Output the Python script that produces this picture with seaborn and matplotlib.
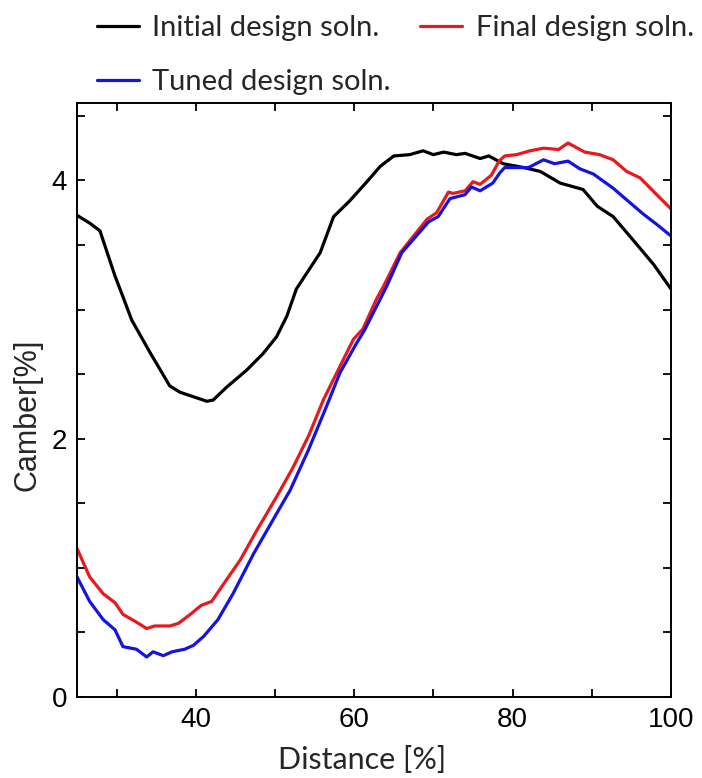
import matplotlib
matplotlib.use("Agg")
import matplotlib.pyplot as plt
import pandas as pd
import seaborn as sns
from matplotlib.ticker import MultipleLocator

# Initial design solution (black)
x_init = [25.0, 26.6, 27.9, 29.8, 30.8, 31.9, 34.2, 36.7, 38.0, 41.4, 42.2, 43.9,
          46.4, 48.5, 50.2, 51.5, 52.7, 55.7, 57.4, 59.4, 61.6, 63.3, 65.0, 67.0,
          68.7, 70.0, 71.3, 72.9, 74.0, 75.9, 77.0, 78.8, 81.4, 83.5, 86.0, 88.9,
          90.7, 92.7, 95.2, 97.8, 100.0]
y_init = [3.73, 3.67, 3.61, 3.26, 3.10, 2.92, 2.67, 2.41, 2.36, 2.29, 2.30, 2.40,
          2.53, 2.66, 2.79, 2.95, 3.16, 3.44, 3.72, 3.84, 3.99, 4.11, 4.19, 4.20,
          4.23, 4.20, 4.22, 4.20, 4.21, 4.17, 4.19, 4.13, 4.10, 4.07, 3.98, 3.93,
          3.80, 3.72, 3.54, 3.35, 3.16]

# Final design solution (red)
x_final = [25.0, 26.6, 28.3, 29.8, 30.8, 32.5, 33.8, 34.8, 36.7, 37.8, 39.3, 40.7,
           42.0, 43.9, 45.6, 47.7, 50.2, 52.3, 54.3, 56.1, 58.2, 59.9, 61.1, 62.8,
           63.7, 65.8, 69.2, 70.4, 71.9, 72.5, 74.0, 75.0, 75.9, 77.3, 78.3, 79.0,
           80.5, 82.2, 83.9, 85.8, 87.0, 89.1, 91.0, 92.7, 94.4, 96.1, 98.2, 100.0]
y_final = [1.15, 0.93, 0.80, 0.73, 0.64, 0.58, 0.53, 0.55, 0.55, 0.57, 0.64, 0.71,
           0.74, 0.91, 1.06, 1.29, 1.55, 1.78, 2.03, 2.30, 2.56, 2.77, 2.85, 3.08,
           3.18, 3.44, 3.70, 3.75, 3.91, 3.90, 3.92, 3.99, 3.97, 4.04, 4.15, 4.19,
           4.20, 4.23, 4.25, 4.24, 4.29, 4.22, 4.20, 4.16, 4.07, 4.02, 3.89, 3.78]

# Tuned design solution (blue)
x_tuned = [25.0, 26.6, 28.3, 29.8, 30.8, 32.5, 33.8, 34.6, 35.9, 37.0, 38.6, 39.7,
           41.0, 42.8, 44.7, 47.3, 50.2, 51.9, 54.2, 56.5, 58.2, 60.3, 61.3, 64.1,
           66.0, 69.4, 70.6, 72.1, 74.0, 74.8, 75.9, 77.5, 78.4, 79.0, 80.5, 82.0,
           83.9, 85.3, 87.0, 88.5, 90.2, 92.7, 94.4, 96.5, 98.2, 100.0]
y_tuned = [0.93, 0.74, 0.60, 0.52, 0.39, 0.37, 0.31, 0.35, 0.32, 0.35, 0.37, 0.40,
           0.47, 0.60, 0.80, 1.11, 1.42, 1.60, 1.91, 2.25, 2.51, 2.74, 2.84, 3.18,
           3.44, 3.68, 3.72, 3.86, 3.89, 3.95, 3.92, 3.98, 4.06, 4.10, 4.10, 4.10,
           4.16, 4.13, 4.15, 4.09, 4.05, 3.94, 3.85, 3.74, 3.66, 3.57]

labels = ["Initial design soln.", "Final design soln.", "Tuned design soln."]
colors = ["#000000", "#e8191c", "#1414e0"]

frames = []
for lab, xs, ys in zip(labels, [x_init, x_final, x_tuned], [y_init, y_final, y_tuned]):
    frames.append(pd.DataFrame({"distance": xs, "camber": ys, "series": lab}))
df = pd.concat(frames, ignore_index=True)

sns.set_style("ticks")
plt.rcParams["font.family"] = ["Liberation Sans", "DejaVu Sans"]

fig = plt.figure(figsize=(7.02, 7.78), dpi=100)
ax = fig.add_axes([77 / 702, 1 - 697 / 778, 594 / 702, 594 / 778])

sns.lineplot(
    data=df,
    x="distance",
    y="camber",
    hue="series",
    hue_order=labels,
    palette=colors,
    sort=False,
    estimator=None,
    linewidth=2.3,
    ax=ax,
)

ax.set_xlim(25, 100)
ax.set_ylim(0, 4.6)
ax.xaxis.set_major_locator(MultipleLocator(10))
ax.yaxis.set_major_locator(MultipleLocator(0.5))
ax.set_xticklabels([f"{t:g}" if t % 20 == 0 else "" for t in ax.get_xticks()])
ax.set_yticklabels([f"{t:g}" if t % 2 == 0 else "" for t in ax.get_yticks()])
ax.set_xlim(25, 100)
ax.set_ylim(0, 4.6)

ax.tick_params(direction="in", length=6, width=1.3, labelsize=20, pad=7,
               top=True, right=True, colors="black")
for sp in ax.spines.values():
    sp.set_linewidth(1.4)
    sp.set_color("black")

ax.set_xlabel("Distance [%]", fontsize=22, family=["Lato", "DejaVu Sans"])
ax.set_ylabel("Camber[%]", fontsize=22)
ax.xaxis.set_label_coords(0.48, -0.082)
ax.yaxis.set_label_coords(-0.058, 0.475)

handles, labs = ax.get_legend_handles_labels()
ax.get_legend().remove()
order = [0, 2, 1]
fig.legend(
    [handles[i] for i in order],
    [labs[i] for i in order],
    loc="upper left",
    bbox_to_anchor=(97 / 702, 1 - 15 / 778),
    borderaxespad=0,
    ncol=2,
    frameon=False,
    borderpad=0,
    handlelength=1.45,
    handletextpad=0.45,
    columnspacing=1.0,
    labelspacing=0.95,
    prop={"family": ["Lato", "DejaVu Sans"], "size": 21},
)

fig.savefig("out.png", dpi=100)
plt.close(fig)
